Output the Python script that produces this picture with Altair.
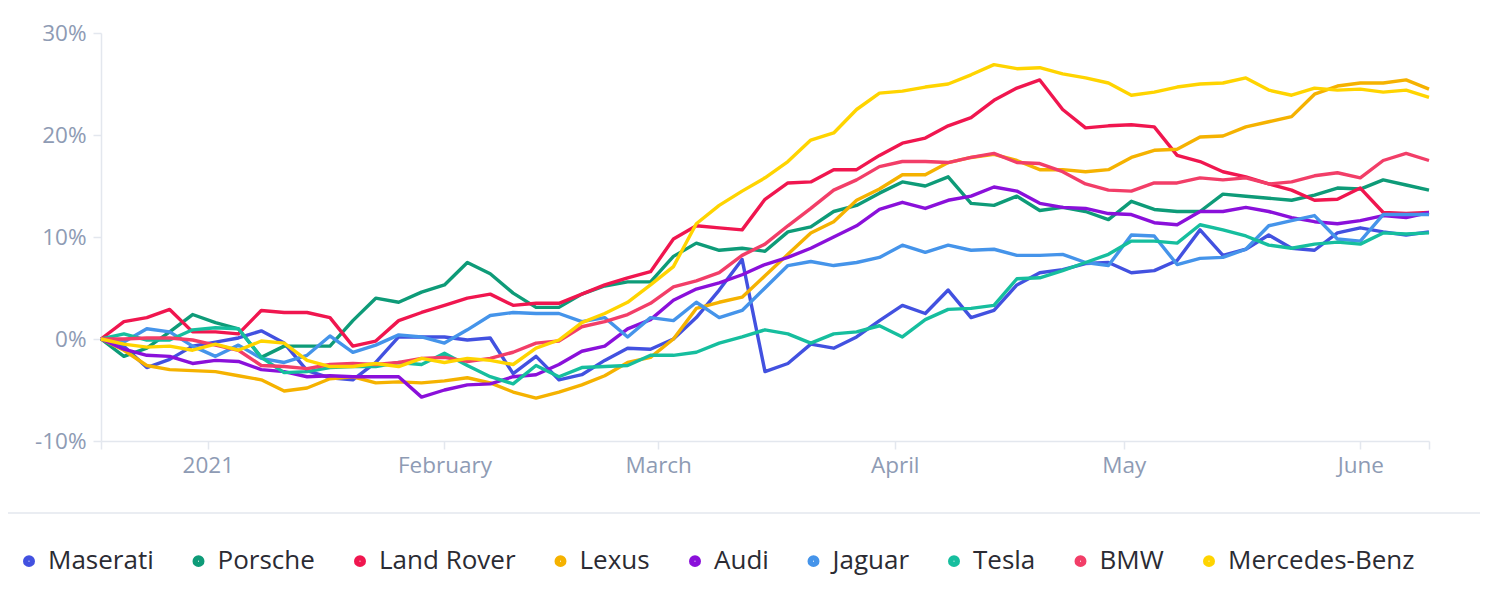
import altair as alt
import pandas as pd

dates = [
    "2020-12-18", "2020-12-21", "2020-12-24", "2020-12-27", "2020-12-30",
    "2021-01-02", "2021-01-05", "2021-01-08", "2021-01-11", "2021-01-14",
    "2021-01-17", "2021-01-20", "2021-01-23", "2021-01-26", "2021-01-29",
    "2021-02-01", "2021-02-04", "2021-02-07", "2021-02-10", "2021-02-13",
    "2021-02-16", "2021-02-19", "2021-02-22", "2021-02-25", "2021-02-28",
    "2021-03-03", "2021-03-06", "2021-03-09", "2021-03-12", "2021-03-15",
    "2021-03-18", "2021-03-21", "2021-03-24", "2021-03-27", "2021-03-30",
    "2021-04-02", "2021-04-05", "2021-04-08", "2021-04-11", "2021-04-14",
    "2021-04-17", "2021-04-20", "2021-04-23", "2021-04-26", "2021-04-29",
    "2021-05-02", "2021-05-05", "2021-05-08", "2021-05-11", "2021-05-14",
    "2021-05-17", "2021-05-20", "2021-05-23", "2021-05-26", "2021-05-29",
    "2021-06-01", "2021-06-04", "2021-06-07", "2021-06-10",
]

maserati = [0, -0.7, -2.8, -2.0, -0.7, -0.3, 0.1, 0.8, -0.4, -3.1,
            -3.8, -4.0, -2.3, 0.2, 0.2, 0.2, -0.1, 0.1, -3.4, -1.7,
            -4.0, -3.5, -2.1, -0.9, -1.0, 0.0, 2.1, 4.8, 7.8, -3.2,
            -2.4, -0.5, -0.9, 0.2, 1.8, 3.3, 2.5, 4.8, 2.1, 2.8,
            5.3, 6.5, 6.8, 7.4, 7.5, 6.5, 6.7, 7.7, 10.7, 8.2,
            8.8, 10.2, 8.9, 8.7, 10.4, 10.9, 10.5, 10.2, 10.5]
porsche = [0, -1.7, -0.9, 0.7, 2.4, 1.6, 1.0, -1.8, -0.7, -0.7,
           -0.7, 1.8, 4.0, 3.6, 4.6, 5.3, 7.5, 6.4, 4.5, 3.1,
           3.1, 4.4, 5.2, 5.6, 5.6, 8.1, 9.4, 8.7, 8.9, 8.6,
           10.5, 11.0, 12.5, 13.1, 14.3, 15.4, 15.0, 15.9, 13.3, 13.1,
           14.0, 12.6, 12.9, 12.5, 11.7, 13.5, 12.7, 12.5, 12.5, 14.2,
           14.0, 13.8, 13.6, 14.1, 14.8, 14.7, 15.6, 15.1, 14.6]
land_rover = [0, 1.7, 2.1, 2.9, 0.7, 0.7, 0.5, 2.8, 2.6, 2.6,
              2.1, -0.7, -0.2, 1.8, 2.6, 3.3, 4.0, 4.4, 3.3, 3.5,
              3.5, 4.4, 5.3, 6.0, 6.6, 9.8, 11.1, 10.9, 10.7, 13.7,
              15.3, 15.4, 16.6, 16.6, 18.0, 19.2, 19.7, 20.9, 21.7, 23.4,
              24.6, 25.4, 22.5, 20.7, 20.9, 21.0, 20.8, 18.0, 17.4, 16.4,
              15.9, 15.2, 14.6, 13.6, 13.7, 14.8, 12.4, 12.3, 12.4]
lexus = [0, -1.1, -2.6, -3.0, -3.1, -3.2, -3.6, -4.0, -5.1, -4.8,
         -3.9, -3.7, -4.3, -4.2, -4.3, -4.1, -3.8, -4.3, -5.2, -5.8,
         -5.2, -4.5, -3.6, -2.3, -1.8, 0.0, 3.0, 3.6, 4.1, 6.2,
         8.3, 10.4, 11.5, 13.6, 14.7, 16.1, 16.1, 17.3, 17.8, 18.1,
         17.5, 16.6, 16.6, 16.4, 16.6, 17.8, 18.5, 18.6, 19.8, 19.9,
         20.8, 21.3, 21.8, 24.0, 24.8, 25.1, 25.1, 25.4, 24.5]
audi = [0, -1.0, -1.6, -1.7, -2.4, -2.1, -2.2, -3.0, -3.2, -3.7,
        -3.6, -3.7, -3.7, -3.7, -5.7, -5.0, -4.5, -4.4, -3.7, -3.5,
        -2.5, -1.2, -0.7, 1.0, 1.9, 3.8, 4.9, 5.5, 6.3, 7.3,
        8.0, 8.9, 10.0, 11.1, 12.7, 13.4, 12.8, 13.6, 14.0, 14.9,
        14.5, 13.3, 12.9, 12.8, 12.3, 12.2, 11.4, 11.2, 12.5, 12.5,
        12.9, 12.5, 11.9, 11.5, 11.3, 11.6, 12.1, 11.9, 12.4]
jaguar = [0, -0.3, 1.0, 0.7, -0.7, -1.7, -0.6, -1.9, -2.3, -1.6,
          0.3, -1.3, -0.6, 0.4, 0.2, -0.4, 0.9, 2.3, 2.6, 2.5,
          2.5, 1.7, 2.1, 0.2, 2.1, 1.8, 3.6, 2.1, 2.8, 5.0,
          7.2, 7.6, 7.2, 7.5, 8.0, 9.2, 8.5, 9.2, 8.7, 8.8,
          8.2, 8.2, 8.3, 7.5, 7.2, 10.2, 10.1, 7.3, 7.9, 8.0,
          8.8, 11.1, 11.6, 12.1, 9.8, 9.6, 12.2, 12.2, 12.2]
tesla = [0, 0.5, -0.1, -0.1, 0.9, 1.1, 1.0, -1.8, -3.3, -3.2,
         -2.8, -2.7, -2.7, -2.3, -2.5, -1.4, -2.6, -3.7, -4.4, -2.6,
         -3.7, -2.8, -2.7, -2.6, -1.6, -1.6, -1.3, -0.4, 0.2, 0.9,
         0.5, -0.4, 0.5, 0.7, 1.3, 0.2, 1.9, 2.9, 3.0, 3.3,
         5.9, 6.0, 6.7, 7.5, 8.3, 9.6, 9.6, 9.4, 11.2, 10.7,
         10.1, 9.2, 8.9, 9.3, 9.5, 9.3, 10.4, 10.3, 10.4]
bmw = [0, 0.0, 0.1, 0.1, -0.1, -0.6, -1.1, -2.6, -2.7, -2.9,
       -2.5, -2.4, -2.5, -2.3, -1.9, -1.8, -2.2, -1.9, -1.3, -0.4,
       -0.2, 1.2, 1.7, 2.4, 3.5, 5.1, 5.7, 6.5, 8.2, 9.3,
       11.1, 12.8, 14.6, 15.6, 16.9, 17.4, 17.4, 17.3, 17.8, 18.2,
       17.3, 17.2, 16.4, 15.2, 14.6, 14.5, 15.3, 15.3, 15.8, 15.6,
       15.8, 15.2, 15.4, 16.0, 16.3, 15.8, 17.5, 18.2, 17.5]
mercedes = [0, -0.5, -0.8, -0.7, -1.1, -0.5, -1.1, -0.2, -0.4, -2.1,
            -2.7, -2.7, -2.4, -2.7, -1.9, -2.3, -1.9, -2.1, -2.5, -0.9,
            -0.1, 1.6, 2.5, 3.6, 5.3, 7.1, 11.3, 13.1, 14.5, 15.8,
            17.4, 19.5, 20.2, 22.5, 24.1, 24.3, 24.7, 25.0, 25.9, 26.9,
            26.5, 26.6, 26.0, 25.6, 25.1, 23.9, 24.2, 24.7, 25.0, 25.1,
            25.6, 24.4, 23.9, 24.6, 24.4, 24.5, 24.2, 24.4, 23.7]

brands = ["Maserati", "Porsche", "Land Rover", "Lexus", "Audi",
          "Jaguar", "Tesla", "BMW", "Mercedes-Benz"]
colors = ["#4251E0", "#0E9B78", "#F0164F", "#F5B200", "#8A10DA",
          "#4594EA", "#16BE9E", "#F23E68", "#FFD400"]
series = [maserati, porsche, land_rover, lexus, audi, jaguar, tesla, bmw, mercedes]

rows = []
for name, vals in zip(brands, series):
    for d, v in zip(dates, vals):
        rows.append({"date": d, "brand": name, "value": v})
df = pd.DataFrame(rows)

tick_dates = ["2020-12-18", "2021-01-01", "2021-02-01", "2021-03-01",
              "2021-04-01", "2021-05-01", "2021-06-01", "2021-06-10"]
y_ticks = [-10, 0, 10, 20, 30]

FONT = "Open Sans"
AXIS_COL = "#8E9BB4"
LINE_COL = "#E3E7EE"

x_vals = [alt.DateTime(year=int(s[:4]), month=int(s[5:7]), date=int(s[8:10]), utc=True)
          for s in tick_dates]

lines = alt.Chart(df).mark_line(strokeWidth=3.4, strokeJoin="round").encode(
    x=alt.X("date:T",
            scale=alt.Scale(type="utc",
                            domain=[alt.DateTime(year=2020, month=12, date=18, utc=True),
                                    alt.DateTime(year=2021, month=6, date=10, utc=True)]),
            axis=alt.Axis(values=x_vals, title=None, grid=False,
                          labelExpr="utcFormat(datum.value, '%d') != '01' ? '' : "
                                    "(utcFormat(datum.value, '%m') == '01' ? utcFormat(datum.value, '%Y') "
                                    ": utcFormat(datum.value, '%B'))",
                          tickSize=8, labelPadding=5)),
    y=alt.Y("value:Q",
            scale=alt.Scale(domain=[-10, 30], nice=False),
            axis=alt.Axis(values=y_ticks, title=None, grid=False,
                          labelExpr="datum.value + '%'",
                          tickSize=8, labelPadding=7)),
    color=alt.Color("brand:N",
                    scale=alt.Scale(domain=brands, range=colors),
                    sort=brands,
                    legend=alt.Legend(title=None, orient="none", direction="horizontal",
                                      legendX=-85, legendY=515,
                                      symbolType="circle", symbolSize=30,
                                      symbolStrokeWidth=6.5,
                                      labelFont=FONT, labelFontSize=26,
                                      labelColor="#2B2B33", labelOffset=6,
                                      labelLimit=400,
                                      columnPadding=28.5, padding=0)),
    detail="brand:N",
)

separator = alt.Chart(pd.DataFrame({"v": [0]})).mark_rule(
    color=LINE_COL, strokeWidth=1.5
).encode(x=alt.value(-93), x2=alt.value(1379), y=alt.value(480))

chart = alt.layer(separator, lines).properties(
    width=1328, height=408,
    autosize=alt.AutoSizeParams(type="none"),
    padding={"left": 93, "top": 25, "right": 51, "bottom": 145},
).configure_view(stroke=None).configure_axis(
    domainColor=LINE_COL, domainWidth=1.5, tickColor=LINE_COL, tickWidth=1.5,
    labelColor=AXIS_COL, labelFont=FONT, labelFontSize=22.5,
)

chart.save("out.html", embed_options={"renderer": "svg", "actions": False})
